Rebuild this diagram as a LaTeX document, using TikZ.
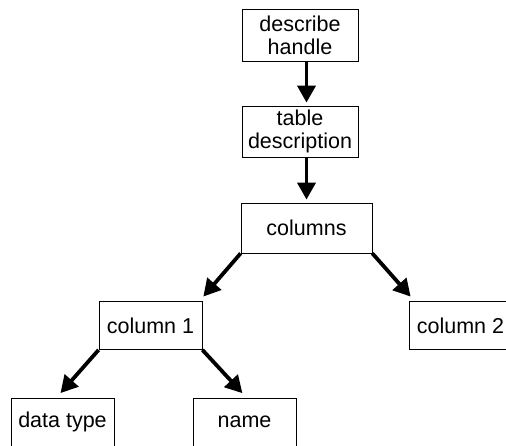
\documentclass[tikz,border=0pt]{standalone}
\usepackage{fontspec}
\setmainfont{Liberation Sans}
\usetikzlibrary{arrows.meta}

\begin{document}
\begin{tikzpicture}[x=1pt, y=-1pt,
    box/.style={draw, line width=0.8pt, align=center, inner sep=0pt,
                minimum width=103, minimum height=48,
                font=\fontsize{21.5}{23}\selectfont},
    arr/.style={-{Triangle[length=17pt,width=18pt]}, line width=3.8pt, shorten >=3pt}]
                % 画布
                \useasboundingbox (0,0) rectangle (506,445);
                \clip (0,0) rectangle (506,445);

                % 节点
                \node[box, minimum width=116, minimum height=52] (dh) at (300,35) {describe\\handle};
                \node[box, minimum width=116, minimum height=51] (td) at (300,131.5) {table\\description};
                \node[box, minimum width=131, minimum height=50] (cols) at (306.5,228) {columns};
                \node[box] (col1) at (150.5,325.5) {column 1};
                \node[box] (col2) at (460.5,325.5) {column 2};
                \node[box] (dt) at (62.5,422) {data type};
                \node[box] (nm) at (244.5,422) {name};

                % 箭头
                \draw[arr] (dh.south -| cols.north) -- (td.north -| cols.north);
                \draw[arr] (td.south -| cols.north) -- (cols.north);
                \draw[arr, shorten >=6pt] (cols.south west) -- ([xshift=-3]col1.north east);
                \draw[arr, shorten >=6pt] (cols.south east) -- ([xshift=6]col2.north west);
                \draw[arr, shorten >=6pt] (col1.south west) -- ([xshift=-6]dt.north);
                \draw[arr, shorten >=6pt] (col1.south east) -- ([xshift=2]nm.north);
            \end{tikzpicture}
\end{document}
